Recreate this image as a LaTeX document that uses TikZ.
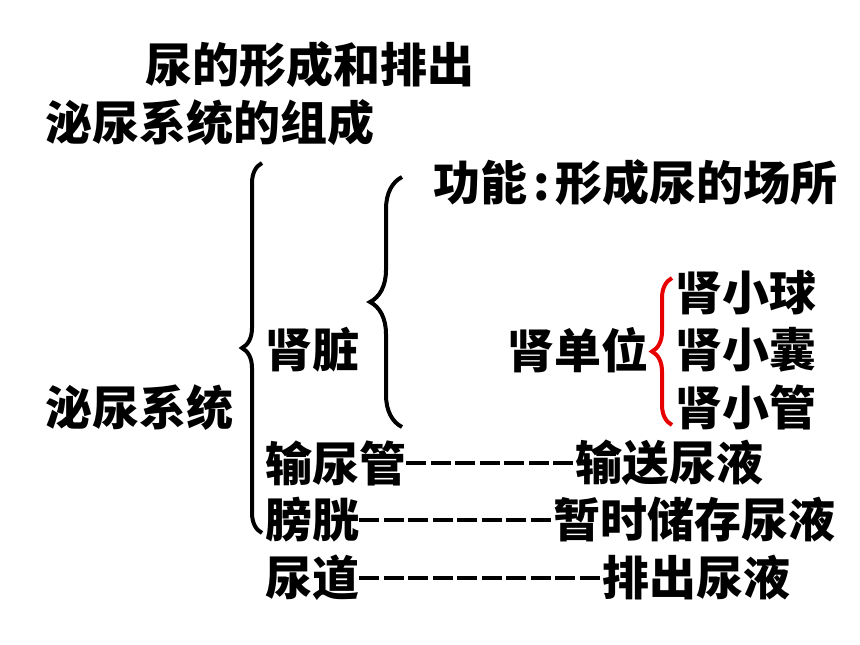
\documentclass[tikz,border=0pt]{standalone}
\usepackage{fontspec}
\usepackage{xcolor}
\usetikzlibrary{decorations.pathreplacing}
\newfontfamily\cjk{Noto Sans CJK SC}
\definecolor{braceRed}{RGB}{230, 0, 0}

\begin{document}
\begin{tikzpicture}[x=1pt, y=-1pt]
            \tikzstyle{label} = [anchor=west, inner sep=0pt, font=\cjk\bfseries\fontsize{47}{47}\selectfont]
            \tikzstyle{bigbrace} = [decorate, decoration={brace, amplitude=20pt}, line width=4pt]
            \tikzstyle{dashline} = [line width=3.5pt, dash pattern=on 20pt off 4.5pt]

            \useasboundingbox (0,0) rectangle (860,645);

            \node[label] (title) at (145,65) {尿的形成和排出};
            \node[label] (subtitle) at (45,123) {泌尿系统的组成};
            \node[label] (urinary) at (45,408) {泌尿系统};
            \node[label] (kidney) at (265,350) {肾脏};
            \node[label] (func) at (433,183) {功能\hspace{6pt}:\hspace{6pt}形成尿的场所};
            \node[label] (nephron) at (507,350) {肾单位};
            \node[label] (glom) at (675,293) {肾小球};
            \node[label] (capsule) at (675,350) {肾小囊};
            \node[label] (tubule) at (675,407) {肾小管};
            \node[label] (ureter) at (265,463) {输尿管};
            \node[label] (convey) at (575,463) {输送尿液};
            \node[label] (bladder) at (265,520) {膀胱};
            \node[label] (store) at (553,520) {暂时储存尿液};
            \node[label] (urethra) at (265,578) {尿道};
            \node[label] (expel) at (602,578) {排出尿液};

            % braces
            \draw[bigbrace] (262,533) -- (262,163);
            \draw[bigbrace, decoration={amplitude=32pt}] (402,427) -- (402,177);
            \draw[bigbrace, braceRed] (672,425) -- (672,278);

            \draw[dashline] (ureter) -- (convey);
            \draw[dashline] (bladder) -- (store);
            \draw[dashline] (urethra) -- (expel);
        \end{tikzpicture}
\end{document}
